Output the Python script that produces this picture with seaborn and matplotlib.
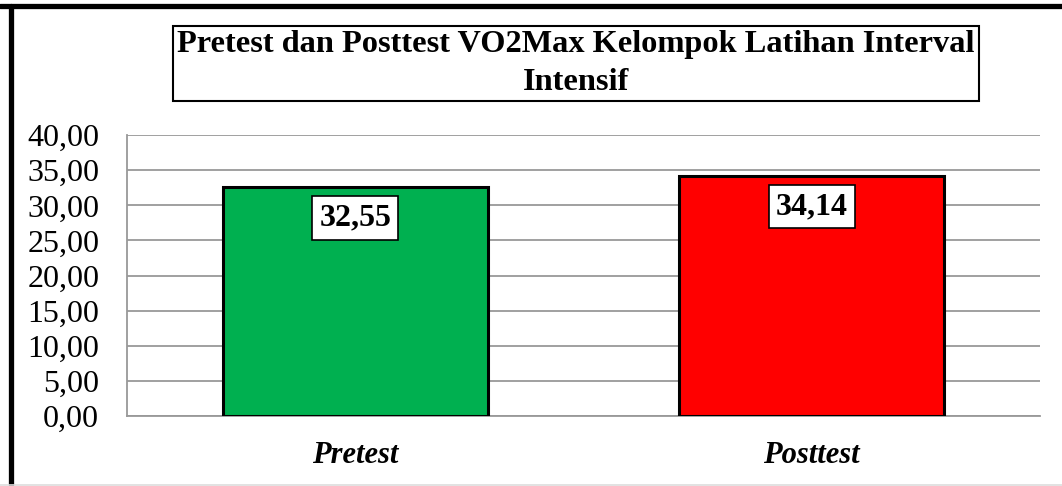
import pandas as pd
import seaborn as sns
import matplotlib.pyplot as plt
from matplotlib.lines import Line2D

# Data
categories = ['Pretest', 'Posttest']
values = [32.55, 34.14]
bar_colors = ['#00B050', '#FF0000']
y_ticks = [0, 5, 10, 15, 20, 25, 30, 35, 40]
title = 'Pretest dan Posttest VO2Max Kelompok Latihan Interval\nIntensif'

df = pd.DataFrame({'Tes': categories, 'VO2Max': values})

sns.set_style('white')
plt.rcParams['font.family'] = ['Liberation Serif', 'DejaVu Serif']
plt.rcParams['text.color'] = 'black'
plt.rcParams['xtick.color'] = 'black'
plt.rcParams['ytick.color'] = 'black'

fig = plt.figure(figsize=(10.62, 4.86), dpi=100)
ax = fig.add_axes([0.1196, 0.144, 0.8597, 0.578])

sns.barplot(data=df, x='Tes', y='VO2Max', hue='Tes', palette=bar_colors,
            legend=False, width=0.58, edgecolor='black', linewidth=2.2,
            saturation=1, ax=ax, zorder=3)

# value labels in white boxes
for i, v in enumerate(values):
    ax.annotate(f'{v:.2f}'.replace('.', ','), xy=(i, v), xytext=(0, -22),
                textcoords='offset points', ha='center', va='center',
                fontsize=23, fontweight='bold', zorder=5,
                bbox=dict(boxstyle='square,pad=0.22', fc='white', ec='black', lw=1.2))

ax.set_ylim(0, 40)
ax.set_yticks(y_ticks)
ax.set_yticklabels([f'{t:.2f}'.replace('.', ',') for t in y_ticks], fontsize=23)
ax.set_xticks(range(len(categories)))
ax.set_xticklabels(categories, fontsize=22, fontweight='bold', fontstyle='italic')
ax.tick_params(axis='y', length=0, pad=20)
ax.tick_params(axis='x', length=0, pad=18)
ax.set_xlabel('')
ax.set_ylabel('')
ax.yaxis.grid(True, color='#999999', linewidth=1.3, zorder=0)
ax.set_axisbelow(True)
for s in ['top', 'right']:
    ax.spines[s].set_visible(False)
ax.spines['left'].set_color('#999999')
ax.spines['left'].set_linewidth(1.3)
ax.spines['bottom'].set_color('#999999')
ax.spines['bottom'].set_linewidth(1.3)

# title in a box
fig.text(0.5424, 0.869, title, ha='center', va='center', fontsize=23.3,
         fontweight='bold', linespacing=1.4,
         bbox=dict(boxstyle='square,pad=0.13', fc='white', ec='black', lw=1.5))

# figure border (top + left)
fig.add_artist(Line2D([0, 1], [1 - 6.5 / 486] * 2, color='black', lw=3.8,
                      transform=fig.transFigure))
fig.add_artist(Line2D([10.5 / 1062] * 2, [0, 1 - 6.5 / 486], color='black', lw=3.8,
                      transform=fig.transFigure))
fig.add_artist(Line2D([0, 1], [0.6 / 486] * 2, color='#dddddd', lw=1.2,
                      transform=fig.transFigure))

fig.savefig('out.png', dpi=100)
